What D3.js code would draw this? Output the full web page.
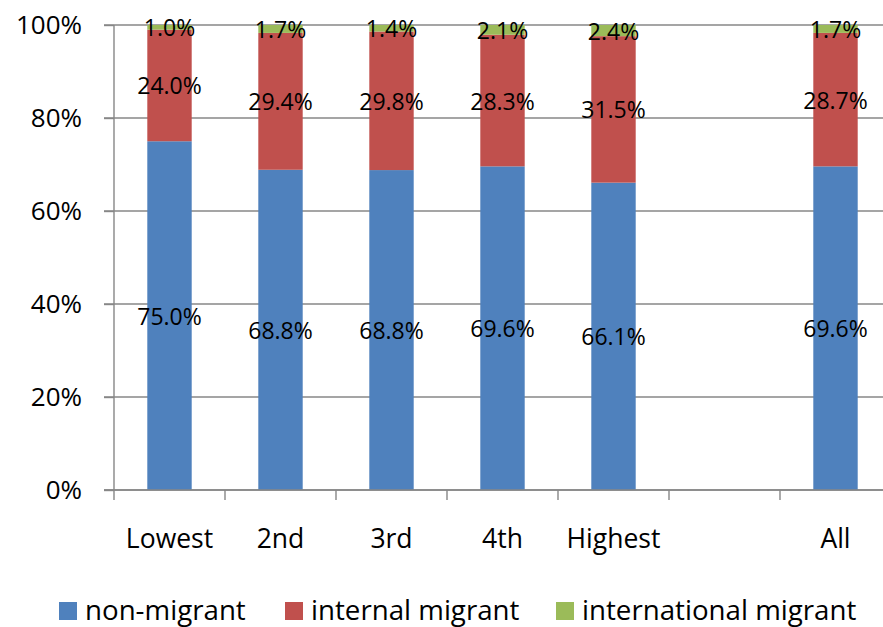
<!DOCTYPE html>
<html>
<head>
<meta charset="utf-8">
<script src="https://cdn.jsdelivr.net/npm/d3@7"></script>
<style>
  html, body { margin: 0; padding: 0; background: #fff; }
  svg { display: block; }
  svg text { font-family: "Open Sans", "Noto Sans", sans-serif; }
</style>
</head>
<body>
<svg id="chart" width="883" height="627"></svg>
<script>
// Share of households by migration status, per quintile and overall
const categories = ["Lowest", "2nd", "3rd", "4th", "Highest", "", "All"];
const seriesNames = ["non-migrant", "internal migrant", "international migrant"];
const nonMigrant = [75.0, 68.8, 68.8, 69.6, 66.1, null, 69.6];
const internalMigrant = [24.0, 29.4, 29.8, 28.3, 31.5, null, 28.7];
const internationalMigrant = [1.0, 1.7, 1.4, 2.1, 2.4, null, 1.7];
const yTickLabels = ["0%", "20%", "40%", "60%", "80%", "100%"];
const colors = ["#4F81BD", "#C0504D", "#9BBB59"];

const seriesValues = [nonMigrant, internalMigrant, internationalMigrant];
const rows = categories.map((c, i) => {
  const r = { category: c, empty: nonMigrant[i] == null };
  seriesNames.forEach((s, k) => { r[s] = seriesValues[k][i] == null ? 0 : seriesValues[k][i]; });
  return r;
});

const svg = d3.select("#chart");
const plotLeft = 114, plotRight = 891, plotTop = 25, plotBottom = 490;

const x = d3.scaleBand()
  .domain(categories)
  .range([plotLeft, plotRight])
  .paddingInner(0.6)
  .paddingOuter(0.3);

const y = d3.scaleLinear().domain([0, 1]).range([plotBottom, plotTop]);

const stack = d3.stack().keys(seriesNames).offset(d3.stackOffsetExpand);
const stacked = stack(rows.filter(r => !r.empty));

// horizontal gridlines
const gridColor = "#878787";
svg.append("g").selectAll("line")
  .data(y.ticks(5))
  .join("line")
  .attr("x1", plotLeft - 10).attr("x2", 883)
  .attr("y1", d => y(d)).attr("y2", d => y(d))
  .attr("stroke", gridColor).attr("stroke-width", 1.4);

// stacked bars
const layers = svg.append("g").selectAll("g")
  .data(stacked)
  .join("g")
  .attr("fill", (d, i) => colors[i]);

layers.selectAll("rect")
  .data(d => d)
  .join("rect")
  .attr("x", d => x(d.data.category))
  .attr("width", x.bandwidth())
  .attr("y", d => y(d[1]))
  .attr("height", d => y(d[0]) - y(d[1]));

// value labels centred in each segment
svg.append("g").selectAll("g")
  .data(stacked)
  .join("g")
  .selectAll("text")
  .data(d => d.map(p => ({ p, key: d.key })))
  .join("text")
  .attr("x", d => x(d.p.data.category) + x.bandwidth() / 2)
  .attr("y", d => (y(d.p[0]) + y(d.p[1])) / 2)
  .attr("text-anchor", "middle")
  .attr("dominant-baseline", "central")
  .attr("font-size", 23)
  .attr("fill", "#000")
  .text(d => d.p.data[d.key].toFixed(1) + "%");

// y axis
const yAxis = d3.axisLeft(y)
  .tickValues(d3.range(0, 1.01, 0.2))
  .tickFormat((d, i) => yTickLabels[i])
  .tickSize(10)
  .tickPadding(22);
const gy = svg.append("g").attr("transform", `translate(${plotLeft},0)`).call(yAxis)
  .attr("font-family", null).attr("font-size", 26);
gy.select(".domain").attr("stroke", gridColor).attr("stroke-width", 1.4).attr("d", `M0,${plotTop}V${plotBottom}`);
gy.selectAll(".tick line").attr("stroke", gridColor).attr("stroke-width", 1.4);
gy.selectAll(".tick text").attr("fill", "#000");

// x axis: tick marks at slot boundaries, labels centred under bars
const step = x.step();
const boundaries = d3.range(categories.length + 1).map(i => plotLeft + i * step);
const gx = svg.append("g");
gx.append("line")
  .attr("x1", plotLeft - 10).attr("x2", 883)
  .attr("y1", plotBottom).attr("y2", plotBottom)
  .attr("stroke", gridColor).attr("stroke-width", 1.4);
gx.selectAll("line.tick")
  .data(boundaries)
  .join("line")
  .attr("class", "tick")
  .attr("x1", d => d).attr("x2", d => d)
  .attr("y1", plotBottom).attr("y2", plotBottom + 10)
  .attr("stroke", gridColor).attr("stroke-width", 1.4);
gx.selectAll("text")
  .data(categories)
  .join("text")
  .attr("x", d => x(d) + x.bandwidth() / 2)
  .attr("y", 548)
  .attr("text-anchor", "middle")
  .attr("font-size", 26.5)
  .attr("fill", "#000")
  .text(d => d);

// legend
const legendItems = [
  { name: seriesNames[0], color: colors[0], x: 59 },
  { name: seriesNames[1], color: colors[1], x: 285 },
  { name: seriesNames[2], color: colors[2], x: 556 }
];
const legend = svg.append("g").selectAll("g")
  .data(legendItems)
  .join("g")
  .attr("transform", d => `translate(${d.x},0)`);
legend.append("rect")
  .attr("x", 0).attr("y", 602)
  .attr("width", 18).attr("height", 18)
  .attr("fill", d => d.color);
legend.append("text")
  .attr("x", 26).attr("y", 620)
  .attr("font-size", 27.7)
  .attr("fill", "#000")
  .text(d => d.name);
</script>
</body>
</html>
